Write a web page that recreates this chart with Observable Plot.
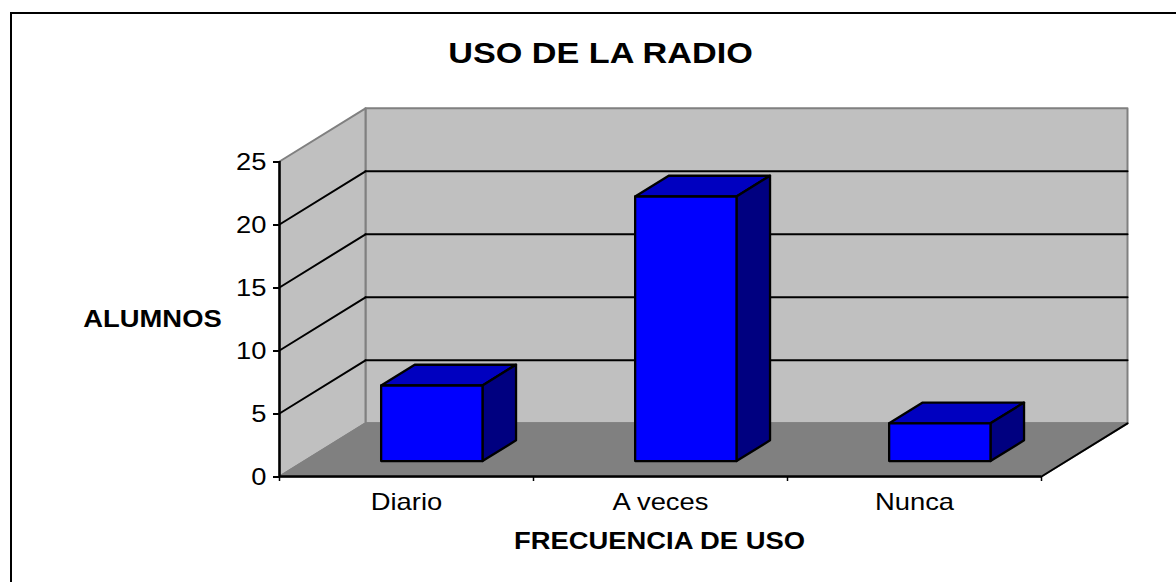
<!DOCTYPE html>
<html><head><meta charset="utf-8">
<script src="https://cdn.jsdelivr.net/npm/d3@7"></script>
<script src="https://cdn.jsdelivr.net/npm/@observablehq/plot@0.6"></script>
<style>
html,body{margin:0;padding:0;background:#fff;width:1176px;height:582px;overflow:hidden}
#box{position:absolute;left:10px;top:12px;width:1300px;height:700px;border:2px solid #000}
#chart{position:absolute;left:0;top:0}
</style></head><body>
<div id="box"></div>
<div id="chart"></div>
<script>
const titleText = "USO DE LA RADIO";
const xTitle = "FRECUENCIA DE USO";
const yTitle = "ALUMNOS";
const categories = ["Diario", "A veces", "Nunca"];
const values = [6, 21, 3];
const yTicks = [0, 5, 10, 15, 20, 25];
const xEdges = [0, 1, 2, 3];
const xCenters = [0.5, 1.5, 2.5];
// oblique depth, in data units, reached at the back wall
const depthX = 0.3386, depthY = 4.22, yMax = 25;
const barInset = 0.302, barWidth = 0.399, barNear = 0.29, barFar = 0.68;

const P = (x, y, d = 0) => ({x: x + d * depthX, y: y + d * depthY});
const face = (pts, fill, stroke, strokeWidth = 2.3) =>
  Plot.line(pts, {x: "x", y: "y", fill, stroke, strokeWidth, curve: "linear-closed"});
const seg = (a, b, stroke = "#000", strokeWidth = 2) =>
  Plot.line([a, b], {x: "x", y: "y", stroke, strokeWidth});

const marks = [];
// back wall, side wall, floor
marks.push(face([P(0,0,1),P(3,0,1),P(3,yMax,1),P(0,yMax,1)], "#c0c0c0", "#808080", 2));
marks.push(face([P(0,0,0),P(0,0,1),P(0,yMax,1),P(0,yMax,0)], "#c0c0c0", "#808080", 2));
marks.push(face([P(0,0,0),P(3,0,0),P(3,0,1),P(0,0,1)], "#808080", "#808080", 2));
// gridlines
for (const t of yTicks.slice(1, -1)) {
  marks.push(seg(P(0,t,0), P(0,t,1)));
  marks.push(seg(P(0,t,1), P(3,t,1)));
}
marks.push(seg(P(3,0,0), P(3,0,1)));
marks.push(Plot.ruleX([0], {y1: 0, y2: yMax, stroke: "#000", strokeWidth: 2.5}));
marks.push(Plot.ruleY([0], {x1: 0, x2: 3, stroke: "#000", strokeWidth: 2.5}));
// bars
values.forEach((v, i) => {
  const a = i + barInset, b = a + barWidth;
  marks.push(face([P(a,v,barNear),P(b,v,barNear),P(b,v,barFar),P(a,v,barFar)], "#0000c0", "#000"));
  marks.push(face([P(b,0,barNear),P(b,0,barFar),P(b,v,barFar),P(b,v,barNear)], "#000080", "#000"));
  marks.push(face([P(a,0,barNear),P(b,0,barNear),P(b,v,barNear),P(a,v,barNear)], "#0000ff", "#000"));
});
// axes
marks.push(Plot.axisY({ticks: yTicks, tickSize: 6, tickPadding: 7, fontSize: 24, label: null, stroke: "#000", strokeWidth: 2, dy: 0.5}));
marks.push(Plot.axisX({ticks: xEdges, tickSize: 5, tickFormat: () => "", label: null, stroke: "#000", strokeWidth: 1.5}));
marks.push(Plot.axisX({ticks: xCenters, tickSize: 0, tickPadding: 16, fontSize: 24, label: null, tickFormat: d => categories[d - 0.5]}));
// chart and axis titles
marks.push(Plot.text([titleText], {frameAnchor: "top", dx: -60, dy: -120, fontSize: 30, fontWeight: "bold", fill: "#000"}));
marks.push(Plot.text([yTitle], {frameAnchor: "left", dx: -127, dy: 0, fontSize: 24, fontWeight: "bold", textAnchor: "middle", fill: "#000"}));
marks.push(Plot.text([xTitle], {frameAnchor: "bottom", dx: -1, dy: 72, fontSize: 24, fontWeight: "bold", fill: "#000"}));

const chart = Plot.plot({
  width: 1176, height: 582,
  marginLeft: 279, marginRight: 135, marginTop: 161, marginBottom: 106,
  x: {type: "linear", domain: [0, 3]},
  y: {type: "linear", domain: [0, yMax]},
  style: {fontFamily: "'Liberation Sans', Arial, sans-serif", background: "transparent", color: "#000", overflow: "visible"},
  marks
});
document.getElementById("chart").appendChild(chart);
// the reference's lettering is drawn about 14% wider than it is tall
chart.querySelectorAll("text").forEach(t => {
  if (!t.textContent) return;
  t.setAttribute("textLength", (t.getComputedTextLength() * 1.14).toFixed(1));
  t.setAttribute("lengthAdjust", "spacingAndGlyphs");
});
</script>
</body></html>
